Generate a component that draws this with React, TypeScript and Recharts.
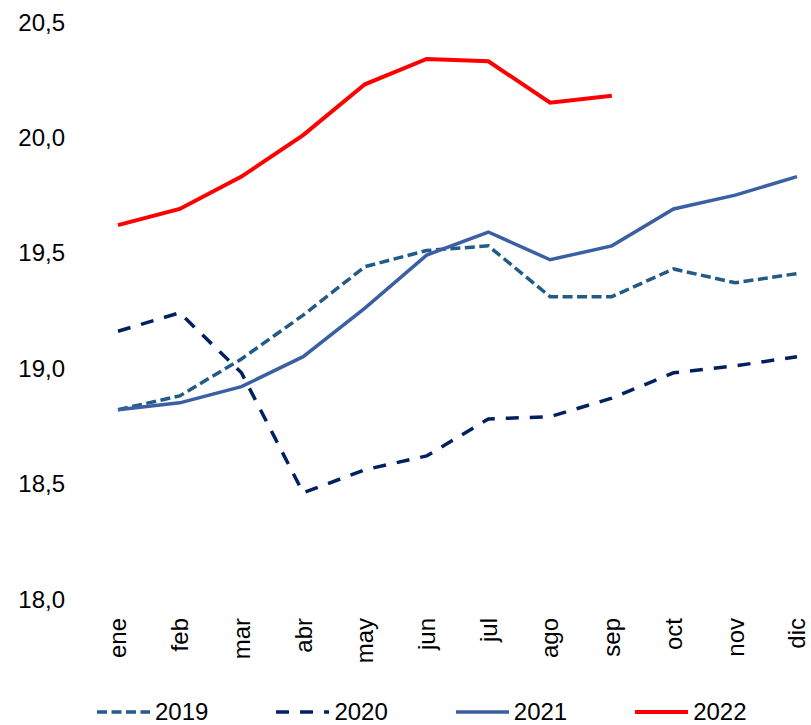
import React from "react";
import { LineChart, Line, XAxis, YAxis, Legend } from "recharts";

const months = ["ene", "feb", "mar", "abr", "may", "jun", "jul", "ago", "sep", "oct", "nov", "dic"];
const s2019 = [18.82, 18.88, 19.04, 19.23, 19.44, 19.51, 19.53, 19.31, 19.31, 19.43, 19.37, 19.41];
const s2020 = [19.16, 19.24, 18.98, 18.46, 18.56, 18.62, 18.78, 18.79, 18.87, 18.98, 19.01, 19.05];
const s2021 = [18.82, 18.85, 18.92, 19.05, 19.26, 19.49, 19.59, 19.47, 19.53, 19.69, 19.75, 19.83];
const s2022 = [19.62, 19.69, 19.83, 20.01, 20.23, 20.34, 20.33, 20.15, 20.18, null, null, null];
const yTicks = [18.0, 18.5, 19.0, 19.5, 20.0, 20.5];

const data = months.map((m, i) => ({
  month: m,
  y2019: s2019[i],
  y2020: s2020[i],
  y2021: s2021[i],
  y2022: s2022[i],
}));

const FONT = "'Liberation Sans', Arial, sans-serif";

const series = [
  { key: "y2019", name: "2019", color: "#235a86", dash: "10 4.5", width: 3.5 },
  { key: "y2020", name: "2020", color: "#002060", dash: "13 11", width: 3.5 },
  { key: "y2021", name: "2021", color: "#3b5fa3", dash: undefined, width: 3.5 },
  { key: "y2022", name: "2022", color: "#ff0000", dash: undefined, width: 4 },
];

const XTick = (props: any) => {
  const { x, y, payload } = props;
  return (
    <text
      x={x}
      y={y}
      transform={`rotate(-90 ${x} ${y})`}
      textAnchor="end"
      dy="0.35em"
      fontSize={24}
      fontFamily={FONT}
      fill="#000"
    >
      {payload.value}
    </text>
  );
};

const LegendContent = () => (
  <div
    style={{
      display: "flex",
      height: 26,
      alignItems: "center",
      paddingLeft: 97,
      gap: 68,
      fontFamily: FONT,
      fontSize: 24,
      color: "#000",
    }}
  >
    {series.map((s) => (
      <div key={s.key} style={{ display: "flex", alignItems: "center" }}>
        <svg width={53} height={10} style={{ display: "block" }}>
          <line
            x1={0}
            y1={5}
            x2={53}
            y2={5}
            stroke={s.color}
            strokeWidth={s.width}
            strokeDasharray={s.dash}
          />
        </svg>
        <span style={{ marginLeft: 5, lineHeight: "26px" }}>{s.name}</span>
      </div>
    ))}
  </div>
);

export default function App() {
  return (
    <div style={{ position: "absolute", left: 0, top: 0, background: "#fff" }}>
      <LineChart
        width={811}
        height={725}
        data={data}
        margin={{ top: 22, right: 14, left: 0, bottom: 0 }}
      >
        <XAxis
          dataKey="month"
          axisLine={false}
          tickLine={false}
          tickSize={0}
          tickMargin={19}
          height={100}
          interval={0}
          tick={<XTick />}
          padding={{ left: 0, right: 0 }}
        />
        <YAxis
          domain={[18, 20.5]}
          ticks={yTicks}
          axisLine={false}
          tickLine={false}
          tickSize={0}
          tickMargin={53}
          width={118}
          interval={0}
          tickFormatter={(v: number) => v.toFixed(1).replace(".", ",")}
          tick={{ fontSize: 24, fontFamily: FONT, fill: "#000" }}
        />
        <Legend verticalAlign="bottom" height={26} content={<LegendContent />} />
        {series.map((s) => (
          <Line
            key={s.key}
            dataKey={s.key}
            name={s.name}
            type="linear"
            stroke={s.color}
            strokeWidth={s.width}
            strokeDasharray={s.dash}
            dot={false}
            activeDot={false}
            isAnimationActive={false}
            connectNulls={false}
          />
        ))}
      </LineChart>
    </div>
  );
}
